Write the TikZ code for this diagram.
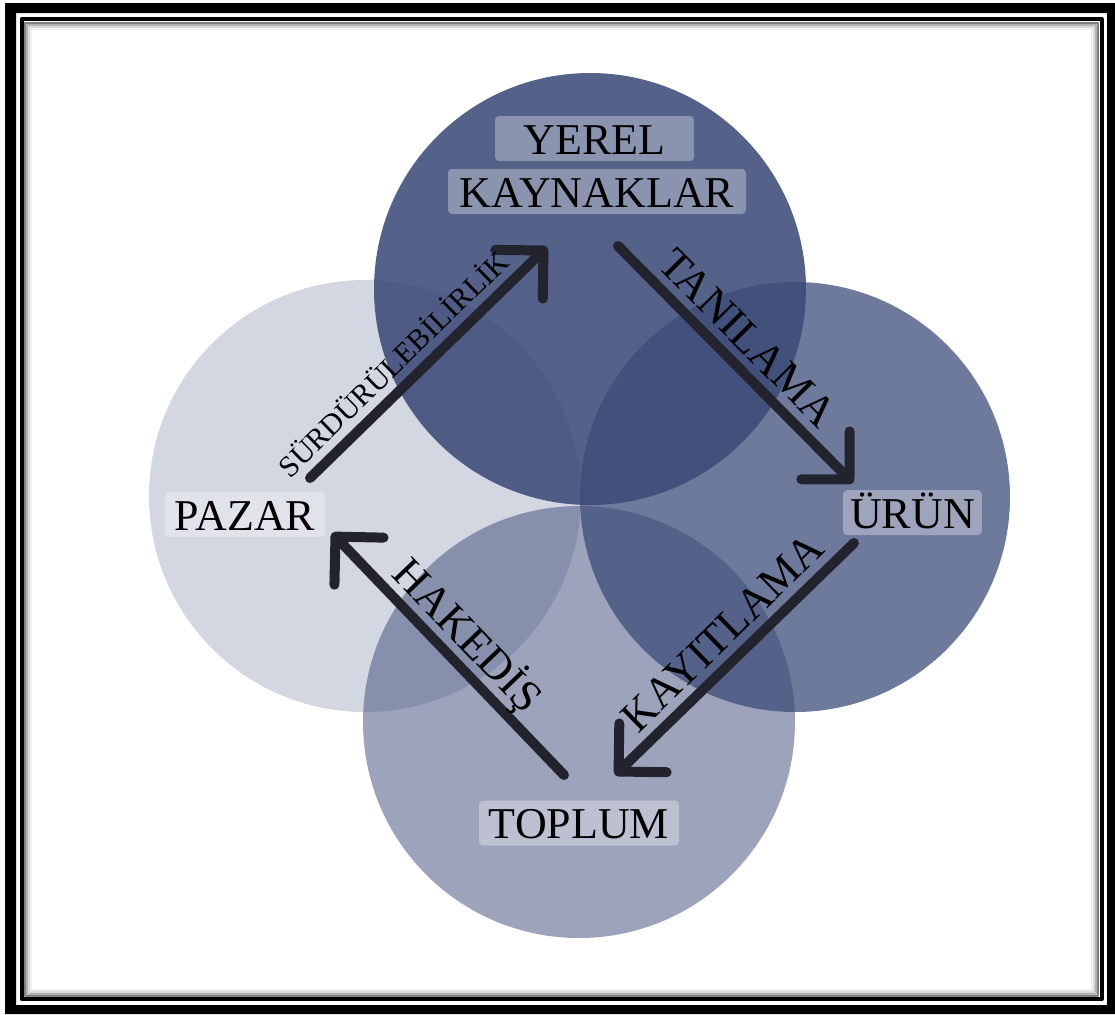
\documentclass[tikz,border=0pt]{standalone}
\usepackage{fontspec}
\setmainfont{Liberation Serif}
\usetikzlibrary{arrows.meta}
\begin{document}
\begin{tikzpicture}[x=0.5pt,y=-0.5pt,line join=round,line cap=round,font=\fontsize{22}{26}\selectfont]
	%\draw[gray!50] (0,0) grid[step=100] (1115,1014);
	\definecolor{lacivert}{RGB}{60,75,120}
	\definecolor{kalem}{RGB}{34,35,45}
	\useasboundingbox (0,0) rectangle (1115,1014);
	\tikzset{
		halka/.style={fill=lacivert,fill opacity=#1},
		etiket/.style={fill=white,fill opacity=.32,text opacity=1,rounded corners=2pt,
			inner sep=3.5pt,text height=15.5pt,text depth=0pt},
		ok/.style={draw=kalem,line width=5pt,-{Straight Barb[length=17pt,width=34pt,round]}},
		yazi/.style={sloped,above=4pt,inner sep=0pt,text depth=0pt}
	}
	
	\fill[black,even odd rule] (5,3) rectangle (1115,1014) (16,13) rectangle (1107,1005);
	\draw[black,line width=2pt] (21.5,19) rectangle (1101.5,999);
	\foreach \d/\g in {1.5/50,3.5/30,5.5/15,7.5/6}
		\draw[black!\g,line width=1pt] (23.5+\d,21+\d) rectangle (1099.5-\d,997-\d);
	
	\fill[halka=.225] (365,496) circle[radius=108pt];
	\fill[halka=.51] (579,722) circle[radius=108pt];
	\fill[halka=.74] (795,497) circle[radius=107.5pt];
	\fill[halka=.88] (590,289) circle[radius=108pt];
	
	\node[etiket,minimum width=99.5pt] (yerel) at (594.5,138.5) {YEREL};
	\node[etiket,minimum width=149pt] (kaynak) at (597,191.5) {KAYNAKLAR};
	\node[etiket,minimum width=80pt] (pazar) at (245,514.5) {PAZAR};
	\node[etiket,minimum width=67.5pt] (urun) at (912.5,512.5) {ÜRÜN};
	\node[etiket,minimum width=100pt] (toplum) at (579,823) {TOPLUM};
	
	\coordinate (p1) at (310,478); \coordinate (k1) at (547,247);
	\coordinate (k2) at (618,246); \coordinate (u1) at (853,483);
	\coordinate (u2) at (854,543); \coordinate (t1) at (615,775);
	\coordinate (t2) at (564,775); \coordinate (p2) at (332,533);
	
	\draw[ok] (p1)--(k1) node[yazi,pos=.42,font=\fontsize{15}{18}\selectfont]{SÜRDÜRÜLEBİLİRLİK};
	\draw[ok] (k2)--(u1) node[yazi,pos=.47]{TANILAMA};
	\draw[ok] (u2)--(t1) node[yazi,pos=.47]{KAYITLAMA};
	\draw[ok] (t2)--(p2) node[yazi,pos=.5]{HAKEDİŞ};
\end{tikzpicture}
\end{document}
